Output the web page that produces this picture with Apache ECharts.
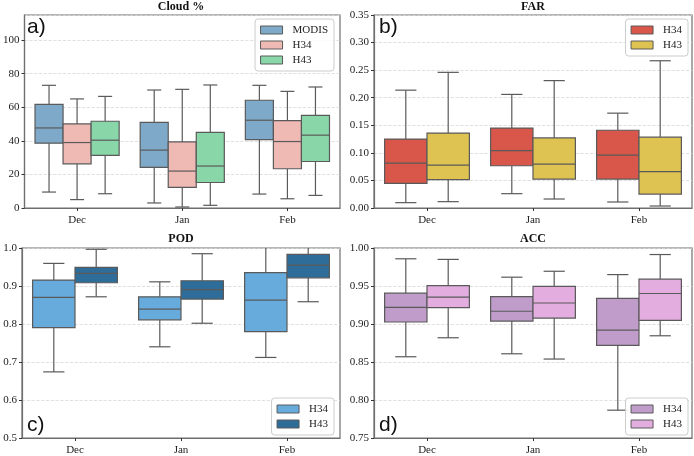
<!DOCTYPE html>
<html>
<head>
<meta charset="utf-8">
<script src="https://cdn.jsdelivr.net/npm/echarts@6/dist/echarts.min.js"></script>
<style>
  html, body { margin: 0; padding: 0; background: #fff; }
  #chart { width: 694px; height: 456px; }
</style>
</head>
<body>
<div id="chart"></div>
<script>
const months = ["Dec", "Jan", "Feb"];

// each row: [lower whisker, Q1, median, Q3, upper whisker] for Dec, Jan, Feb
const cloudModis = [[9.5, 38.6, 47.7, 61.8, 73.1], [3.0, 24.2, 34.5, 51.0, 70.3], [8.3, 40.8, 52.3, 64.2, 73.1]];
const cloudH34 = [[5.0, 26.3, 39.0, 50.1, 65.0], [0.6, 12.3, 22.0, 39.4, 70.7], [5.5, 23.4, 39.6, 52.1, 69.5]];
const cloudH43 = [[8.5, 31.3, 40.4, 51.7, 66.5], [1.6, 15.2, 25.0, 45.1, 73.3], [7.5, 27.7, 43.4, 55.2, 72.1]];

const farH34 = [[0.0097, 0.0447, 0.0815, 0.125, 0.2137], [0.026, 0.0766, 0.104, 0.145, 0.206], [0.0109, 0.0525, 0.096, 0.141, 0.172]];
const farH43 = [[0.0115, 0.0513, 0.0779, 0.1358, 0.246], [0.0163, 0.0525, 0.0797, 0.127, 0.231], [0.0036, 0.0253, 0.0658, 0.1285, 0.267]];

const podH34 = [[0.674, 0.7905, 0.87, 0.9155, 0.9595], [0.74, 0.811, 0.839, 0.8716, 0.911], [0.712, 0.78, 0.863, 0.935, 1.03]];
const podH43 = [[0.8716, 0.9086, 0.933, 0.949, 0.9966], [0.802, 0.8655, 0.8905, 0.9138, 0.985], [0.8586, 0.9216, 0.955, 0.983, 1.02]];

const accH34 = [[0.8569, 0.9026, 0.922, 0.9405, 0.9858], [0.8608, 0.9039, 0.9168, 0.936, 0.9616], [0.7866, 0.872, 0.892, 0.9336, 0.965]];
const accH43 = [[0.8819, 0.9216, 0.9353, 0.9504, 0.985], [0.8539, 0.9078, 0.9276, 0.9496, 0.9694], [0.8845, 0.9047, 0.9401, 0.959, 0.9914]];

// y tick labels per panel (first = axis min, step = interval), plus axis max
const cloudTicks = [0, 20, 40, 60, 80, 100];
const farTicks = [0.0, 0.05, 0.1, 0.15, 0.2, 0.25, 0.3, 0.35];
const podTicks = [0.5, 0.6, 0.7, 0.8, 0.9, 1.0];
const accTicks = [0.75, 0.8, 0.85, 0.9, 0.95, 1.0];
const yMax = [115, 0.35, 1.0, 1.0];

const serif = "Liberation Serif";
const edge = "#5a5a5a";

const chart = echarts.init(document.getElementById("chart"));

const grids = [
  { left: 22, top: 15, width: 318, height: 193 },
  { left: 374, top: 15, width: 318, height: 193 },
  { left: 22, top: 248, width: 318, height: 193 },
  { left: 374, top: 248, width: 318, height: 193 },
].map((g) => ({ ...g, show: true, borderColor: "#6e6e6e", borderWidth: 1.2, backgroundColor: "#fff" }));

function yAxis(gi, ticks, digits) {
  const last = ticks[ticks.length - 1];
  return {
    type: "value",
    gridIndex: gi,
    min: ticks[0],
    max: yMax[gi],
    interval: +(ticks[1] - ticks[0]).toFixed(4),
    axisLine: { show: true, lineStyle: { color: "#6e6e6e", width: 1.2 } },
    axisTick: { show: true, length: 3, lineStyle: { color: "#333" } },
    axisLabel: {
      color: "#222",
      fontFamily: serif,
      fontSize: 11,
      margin: 5,
      showMaxLabel: Math.abs(last - yMax[gi]) < 1e-9,
      formatter: (v) => (v > last + 1e-9 ? "" : v.toFixed(digits)),
    },
    splitLine: { show: true, lineStyle: { color: "#d8d8d8", type: "dashed", width: 0.8 } },
  };
}

function xAxis(gi) {
  return {
    type: "category",
    gridIndex: gi,
    data: months,
    axisLine: { show: true, lineStyle: { color: "#6e6e6e", width: 1.2 } },
    axisTick: { show: true, alignWithLabel: true, length: 3, lineStyle: { color: "#333" } },
    axisLabel: { color: "#222", fontFamily: serif, fontSize: 11, margin: 7 },
    splitLine: { show: false },
  };
}

// seaborn-like box: boxes of one month sit side by side in 80% of the band
function boxSeries(name, gi, idx, n, color, rows) {
  return {
    name,
    type: "custom",
    xAxisIndex: gi,
    yAxisIndex: gi,
    clip: true,
    itemStyle: { color },
    encode: { x: 0, y: [1, 2, 3, 4, 5] },
    data: rows.map((r, i) => [i, ...r]),
    renderItem(params, api) {
      const cat = api.value(0);
      const band = api.size([1, 0])[0];
      const w = (band * 0.8) / n;
      const cx = api.coord([cat, 0])[0] - band * 0.4 + w * (idx + 0.5);
      const y = (k) => api.coord([cat, api.value(k)])[1];
      const lo = y(1), q1 = y(2), med = y(3), q3 = y(4), hi = y(5);
      const cap = w / 4;
      const ls = { stroke: edge, lineWidth: 1.2 };
      return {
        type: "group",
        children: [
          { type: "line", shape: { x1: cx, y1: q3, x2: cx, y2: hi }, style: ls },
          { type: "line", shape: { x1: cx, y1: q1, x2: cx, y2: lo }, style: ls },
          { type: "line", shape: { x1: cx - cap, y1: hi, x2: cx + cap, y2: hi }, style: ls },
          { type: "line", shape: { x1: cx - cap, y1: lo, x2: cx + cap, y2: lo }, style: ls },
          {
            type: "rect",
            shape: { x: cx - w / 2, y: q3, width: w, height: q1 - q3 },
            style: { fill: color, stroke: edge, lineWidth: 1.2 },
          },
          { type: "line", shape: { x1: cx - w / 2, y1: med, x2: cx + w / 2, y2: med }, style: ls },
        ],
      };
    },
  };
}

const series = [
  boxSeries("MODIS", 0, 0, 3, "#7fa9c8", cloudModis),
  boxSeries("H34", 0, 1, 3, "#efb9b4", cloudH34),
  boxSeries("H43", 0, 2, 3, "#89d7a9", cloudH43),
  boxSeries("H34 ", 1, 0, 2, "#d8574a", farH34),
  boxSeries("H43 ", 1, 1, 2, "#dec352", farH43),
  boxSeries("H34  ", 2, 0, 2, "#67abdc", podH34),
  boxSeries("H43  ", 2, 1, 2, "#2e6d99", podH43),
  boxSeries("H34   ", 3, 0, 2, "#bf9cc9", accH34),
  boxSeries("H43   ", 3, 1, 2, "#e3addf", accH43),
];

function legend(names, pos) {
  return {
    ...pos,
    data: names,
    orient: "vertical",
    icon: "rect",
    itemWidth: 22,
    itemHeight: 8,
    itemGap: 3,
    padding: [5, 6, 5, 5],
    backgroundColor: "rgba(255,255,255,0.85)",
    borderColor: "#cccccc",
    borderWidth: 1,
    borderRadius: 3,
    selectedMode: false,
    itemStyle: { borderColor: edge, borderWidth: 1 },
    formatter: (n) => n.trim(),
    textStyle: { fontFamily: serif, fontSize: 11, color: "#222", lineHeight: 12, padding: [0, 0, 0, 5] },
  };
}

const titleStyle = { fontFamily: serif, fontSize: 12, fontWeight: "bold", color: "#111" };
const panelLabel = (text, left, top) => ({
  type: "text",
  left,
  top,
  style: { text, font: "21px 'Liberation Sans'", fill: "#111" },
});

chart.setOption({
  animation: false,
  backgroundColor: "#fff",
  title: [
    { text: "Cloud %", left: 181, top: 1, padding: 0, textAlign: "center", textStyle: titleStyle },
    { text: "FAR", left: 533, top: 1, padding: 0, textAlign: "center", textStyle: titleStyle },
    { text: "POD", left: 181, top: 233, padding: 0, textAlign: "center", textStyle: titleStyle },
    { text: "ACC", left: 533, top: 233, padding: 0, textAlign: "center", textStyle: titleStyle },
  ],
  grid: grids,
  xAxis: [xAxis(0), xAxis(1), xAxis(2), xAxis(3)],
  yAxis: [yAxis(0, cloudTicks, 0), yAxis(1, farTicks, 2), yAxis(2, podTicks, 1), yAxis(3, accTicks, 2)],
  legend: [
    legend(["MODIS", "H34", "H43"], { right: 360, top: 19 }),
    legend(["H34 ", "H43 "], { right: 6, top: 19 }),
    legend(["H34  ", "H43  "], { right: 360, bottom: 21 }),
    legend(["H34   ", "H43   "], { right: 6, bottom: 21 }),
  ],
  graphic: [
    panelLabel("a)", 27, 17),
    panelLabel("b)", 379, 17),
    panelLabel("c)", 27, 415),
    panelLabel("d)", 379, 415),
  ],
  series,
});
</script>
</body>
</html>
